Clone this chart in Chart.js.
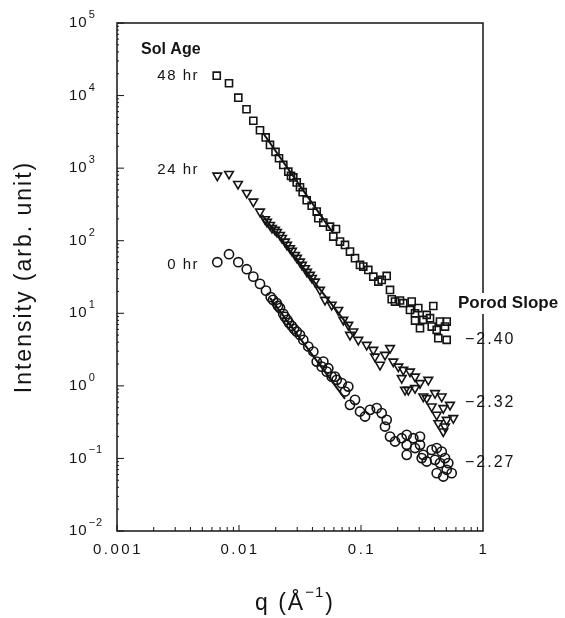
<!DOCTYPE html>
<html>
<head>
<meta charset="utf-8">
<script src="https://cdn.jsdelivr.net/npm/chart.js@4.4.0/dist/chart.umd.min.js"></script>
<style>
  body { margin: 0; background: #fff; }
  #wrap { width: 565px; height: 618px; position: relative; }
</style>
</head>
<body>
<div id="wrap"><canvas id="saxs"></canvas></div>
<script>
// Sol age 48 hr (squares)
var q48 = [0.00657, 0.00828, 0.00987, 0.01152, 0.0131, 0.01486, 0.01655, 0.01795, 0.01992, 0.02128,
  0.02308, 0.02536, 0.02669, 0.02787, 0.02972, 0.03162, 0.03327, 0.03589, 0.03944, 0.04335,
  0.04467, 0.04909, 0.05572, 0.06238, 0.05929, 0.06728, 0.07394, 0.08124, 0.0893, 0.09813,
  0.1044, 0.1148, 0.1261, 0.1387, 0.1478, 0.1624, 0.1729, 0.1785, 0.19, 0.2088,
  0.2222, 0.2604, 0.2521, 0.2772, 0.2949, 0.2772, 0.3045, 0.3241, 0.3455, 0.3678,
  0.3913, 0.3797, 0.4174, 0.4441, 0.5041, 0.488, 0.4301, 0.5041];
var i48 = [18800, 14770, 9356, 6475, 4497, 3327, 2648, 2087, 1672, 1369,
  1107, 895, 781, 745, 635, 546, 466, 361, 303, 252,
  204, 178, 156, 145, 114, 97.2, 87.5, 70.8, 57.4, 46.4,
  44.0, 39.6, 32.0, 27.3, 28.8, 32.7, 21.0, 15.6, 14.5, 15.0,
  13.8, 14.5, 11.1, 10.0, 11.8, 7.93, 6.23, 8.11, 9.51, 8.56,
  12.6, 6.56, 5.91, 7.69, 7.69, 6.56, 4.54, 4.30];

// Sol age 24 hr (down triangles)
var q24 = [0.00664, 0.00828, 0.00981, 0.01157, 0.0131, 0.01486, 0.01633, 0.01696, 0.01795, 0.01864,
  0.01973, 0.02048, 0.02168, 0.02252, 0.02382, 0.02474, 0.02618, 0.02719, 0.02877, 0.02988,
  0.03162, 0.03284, 0.03475, 0.03609, 0.03819, 0.03966, 0.04197, 0.04612, 0.05068, 0.05752,
  0.06514, 0.07158, 0.07867, 0.08124, 0.08648, 0.09504, 0.1113, 0.1261, 0.1302, 0.1431,
  0.1573, 0.1729, 0.184, 0.2022, 0.2222, 0.2521, 0.2156, 0.2295, 0.2442, 0.2772,
  0.3045, 0.3561, 0.2772, 0.3241, 0.3455, 0.4043, 0.4586, 0.5363, 0.3797, 0.4174,
  0.4727, 0.5041, 0.571, 0.4301, 0.488, 0.4727];
var i24 = [788, 832, 606, 455, 346, 252, 198, 182, 165, 150,
  141, 132, 120, 109, 97.2, 87.5, 78.8, 72.4, 63.7, 58.0,
  51.5, 46.4, 41.8, 37.2, 33.8, 30.7, 27.3, 21.0, 15.3, 13.1,
  11.1, 8.11, 6.92, 5.04, 5.60, 4.30, 3.67, 3.13, 2.53, 1.95,
  2.67, 3.31, 2.16, 1.84, 1.66, 1.57, 1.28, 0.881, 0.881, 1.34,
  1.09, 1.21, 0.930, 0.712, 0.677, 0.793, 0.712, 0.547, 0.519, 0.399,
  0.493, 0.340, 0.359, 0.306, 0.275, 0.235];

// Sol age 0 hr (circles)
var q0 = [0.00664, 0.00828, 0.00987, 0.01157, 0.0131, 0.01486, 0.01664, 0.01819, 0.019, 0.02037,
  0.02088, 0.02168, 0.02308, 0.02382, 0.02488, 0.02569, 0.02704, 0.02824, 0.02972, 0.03162,
  0.03365, 0.03698, 0.04064, 0.04335, 0.04764, 0.04909, 0.05236, 0.05395, 0.05752, 0.06122,
  0.06322, 0.06947, 0.07394, 0.07867, 0.08124, 0.0893, 0.09813, 0.1079, 0.1185, 0.1345,
  0.1478, 0.1624, 0.1573, 0.1729, 0.19, 0.2156, 0.237, 0.2684, 0.3045, 0.237,
  0.237, 0.2772, 0.3045, 0.3241, 0.3145, 0.3455, 0.3797, 0.4174, 0.4586, 0.488,
  0.4043, 0.4441, 0.5194, 0.5041, 0.4174, 0.5537, 0.4727];
var i0 = [50.6, 65.2, 50.6, 40.5, 32.0, 25.4, 20.5, 16.7, 15.3, 13.8,
  12.6, 11.8, 9.81, 8.92, 8.11, 7.38, 6.71, 6.10, 5.60, 5.04,
  4.30, 3.48, 2.97, 2.16, 1.84, 2.16, 1.57, 1.75, 1.34, 1.34,
  1.21, 1.09, 0.835, 0.978, 0.547, 0.642, 0.443, 0.378, 0.467, 0.493,
  0.421, 0.340, 0.275, 0.200, 0.171, 0.190, 0.211, 0.190, 0.200, 0.154,
  0.112, 0.139, 0.154, 0.112, 0.101, 0.0907, 0.131, 0.139, 0.124, 0.101,
  0.0956, 0.0862, 0.0862, 0.0697, 0.0627, 0.0627, 0.0563];

// Porod fit lines (end points)
var fitQ48 = [0.01573, 0.05895];
var fitI48 = [3052, 128];
var fitQ24 = [0.01544, 0.08124];
var fitI24 = [226.7, 6.29];
var fitQ0 = [0.01795, 0.07394];
var fitI0 = [16.3, 0.662];

// axis ticks
var xMajor = [0.001, 0.01, 0.1, 1];
var xMajorLabels = ["0.001", "0.01", "0.1", "1"];
var yExponents = [-2, -1, 0, 1, 2, 3, 4, 5];

var ageLabels = ["48 hr", "24 hr", "0 hr"];
var slopeLabels = ["\u22122.40", "\u22122.32", "\u22122.27"];

function pts(qs, is) {
  var out = [];
  for (var k = 0; k < qs.length; k++) out.push({ x: qs[k], y: is[k] });
  return out;
}

var ink = '#141414';

var axesPlugin = {
  id: 'axesPlugin',
  afterDraw: function(chart) {
    var ctx = chart.ctx, a = chart.chartArea;
    var xs = chart.scales.x, ys = chart.scales.y;
    ctx.save();
    ctx.strokeStyle = ink;
    ctx.fillStyle = ink;
    ctx.lineWidth = 1.5;
    ctx.strokeRect(a.left, a.top, a.right - a.left, a.bottom - a.top);

    // x ticks, pointing up from the bottom
    ctx.lineWidth = 1;
    for (var d = -3; d < 0; d++) {
      for (var m = 1; m < 10; m++) {
        var px = xs.getPixelForValue(m * Math.pow(10, d));
        var len = m === 1 ? 6 : 4;
        ctx.beginPath();
        ctx.moveTo(px, a.bottom);
        ctx.lineTo(px, a.bottom - len);
        ctx.stroke();
      }
    }
    // y ticks, pointing right
    for (var e = -2; e < 5; e++) {
      for (var n = 1; n < 10; n++) {
        var py = ys.getPixelForValue(n * Math.pow(10, e));
        var l2 = n === 1 ? 7 : 2;
        ctx.beginPath();
        ctx.moveTo(a.left, py);
        ctx.lineTo(a.left + l2, py);
        ctx.stroke();
      }
    }
    ctx.beginPath();
    ctx.moveTo(a.left, ys.getPixelForValue(1e5));
    ctx.lineTo(a.left + 7, ys.getPixelForValue(1e5));
    ctx.stroke();

    // x labels
    ctx.textBaseline = 'middle';
    ctx.textAlign = 'center';
    ctx.font = '15px "Liberation Sans"';
    ctx.letterSpacing = '2.5px';
    for (var i = 0; i < xMajor.length; i++) {
      ctx.fillText(xMajorLabels[i], xs.getPixelForValue(xMajor[i]) + 1, a.bottom + 19);
    }

    // y labels 10^n
    ctx.textAlign = 'left';
    ctx.letterSpacing = '1px';
    for (var j = 0; j < yExponents.length; j++) {
      var yy = ys.getPixelForValue(Math.pow(10, yExponents[j]));
      ctx.font = '15px "Liberation Sans"';
      ctx.fillText("10", 69, yy);
      var w = ctx.measureText("10").width;
      ctx.font = '11px "Liberation Sans"';
      var ex = yExponents[j] < 0 ? "\u2212" + (-yExponents[j]) : String(yExponents[j]);
      ctx.fillText(ex, 69 + w + 1, yy - 8);
    }

    // axis titles
    ctx.font = '23px "Liberation Sans"';
    ctx.letterSpacing = '2px';
    ctx.save();
    ctx.translate(25, (a.top + a.bottom) / 2);
    ctx.rotate(-Math.PI / 2);
    ctx.textAlign = 'center';
    ctx.fillText("Intensity (arb. unit)", 0, 0);
    ctx.restore();

    var tx = (a.left + a.right) / 2 - 45;
    var ty = 604;
    ctx.textAlign = 'left';
    ctx.fillText("q (\u00C5", tx, ty);
    var w1 = ctx.measureText("q (\u00C5").width;
    ctx.font = '15px "Liberation Sans"';
    ctx.letterSpacing = '1px';
    ctx.fillText("\u22121", tx + w1, ty - 11);
    var w2 = ctx.measureText("\u22121").width;
    ctx.font = '23px "Liberation Sans"';
    ctx.fillText(")", tx + w1 + w2 + 1, ty);

    // Sol Age legend text
    ctx.letterSpacing = '0px';
    ctx.font = 'bold 16px "Liberation Sans"';
    ctx.fillText("Sol Age", 141, 50);
    ctx.font = '15px "Liberation Sans"';
    ctx.letterSpacing = '1.5px';
    ctx.textAlign = 'right';
    var ageY = [76, 170, 265];
    for (var k = 0; k < ageLabels.length; k++) {
      ctx.fillText(ageLabels[k], 199, ageY[k]);
    }

    // Porod slope labels
    ctx.textAlign = 'left';
    ctx.letterSpacing = '0px';
    ctx.font = 'bold 17px "Liberation Sans"';
    var pw = ctx.measureText("Porod Slope").width;
    ctx.fillStyle = '#fff';
    ctx.fillRect(456, 293, pw + 4, 21);
    ctx.fillStyle = ink;
    ctx.fillText("Porod Slope", 458, 303);
    ctx.font = '16px "Liberation Sans"';
    ctx.letterSpacing = '2px';
    var slY = [340, 403, 463];
    for (var s = 0; s < slopeLabels.length; s++) {
      ctx.fillText(slopeLabels[s], 465, slY[s]);
    }
    ctx.restore();
  }
};

var markerBase = {
  showLine: false,
  borderColor: ink,
  backgroundColor: 'rgba(0,0,0,0)',
  borderWidth: 1.6
};

new Chart(document.getElementById('saxs'), {
  type: 'scatter',
  data: {
    datasets: [
      Object.assign({ label: '48 hr', data: pts(q48, i48), pointStyle: 'rect', pointRadius: 5 }, markerBase),
      Object.assign({ label: '24 hr', data: pts(q24, i24), pointStyle: 'triangle', rotation: 180, pointRadius: 5 }, markerBase),
      Object.assign({ label: '0 hr', data: pts(q0, i0), pointStyle: 'circle', pointRadius: 4.6 }, markerBase),
      { label: 'fit48', data: pts(fitQ48, fitI48), showLine: true, pointRadius: 0, borderColor: ink, borderWidth: 2 },
      { label: 'fit24', data: pts(fitQ24, fitI24), showLine: true, pointRadius: 0, borderColor: ink, borderWidth: 2 },
      { label: 'fit0', data: pts(fitQ0, fitI0), showLine: true, pointRadius: 0, borderColor: ink, borderWidth: 2 }
    ]
  },
  options: {
    responsive: true,
    maintainAspectRatio: false,
    animation: false,
    layout: { padding: { left: 117, top: 23, right: 82, bottom: 87 } },
    plugins: { legend: { display: false }, tooltip: { enabled: false } },
    scales: {
      x: { type: 'logarithmic', min: 0.001, max: 1, display: false },
      y: { type: 'logarithmic', min: 0.01, max: 100000, display: false }
    }
  },
  plugins: [axesPlugin]
});
</script>
</body>
</html>
